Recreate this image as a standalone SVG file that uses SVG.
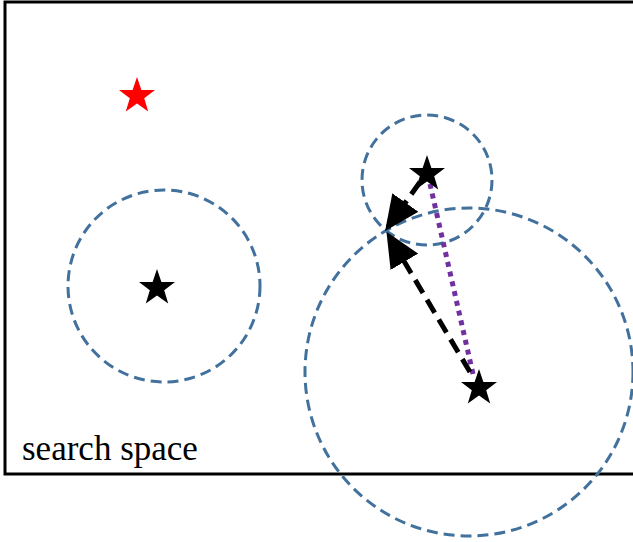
<svg xmlns="http://www.w3.org/2000/svg" width="633" height="542" viewBox="0 0 633 542">
<style>
.c{fill:none;stroke:#41719c;stroke-width:3;stroke-dasharray:11,6}
.a{stroke:#000;stroke-width:5;stroke-dasharray:15,8;fill:none}
.s{fill:#000}
</style>
<defs>
<path id="star" d="M0,-19 L4.4,-6.1 L18,-5.9 L7.2,2.3 L11.2,15.4 L0,7.6 L-11.2,15.4 L-7.2,2.3 L-18,-5.9 L-4.4,-6.1 Z"/>
<marker id="ah" markerWidth="7" markerHeight="6.4" refX="6" refY="3.2" orient="auto" markerUnits="strokeWidth"><path d="M0,0 L7,3.2 L0,6.4 Z" fill="#000"/></marker>
</defs>
<rect x="5" y="2" width="640" height="472" fill="#fff" stroke="#000" stroke-width="3"/>
<g id="circle-left"><circle class="c" cx="164" cy="286" r="96"/></g>
<g id="circle-small"><circle class="c" cx="427" cy="180" r="65"/></g>
<g id="circle-big"><circle class="c" cx="469" cy="372" r="164"/></g>
<g id="connectors">
<line x1="473" y1="374" x2="430" y2="184" stroke="#7030a0" stroke-width="5" stroke-dasharray="5,5"/>
<line class="a" x1="470" y1="372" x2="389" y2="236" marker-end="url(#ah)"/>
<line class="a" x1="420" y1="182" x2="388" y2="227" marker-end="url(#ah)"/>
</g>
<g id="star-red"><use href="#star" x="137" y="96" fill="#f00"/></g>
<g id="star-left"><use href="#star" x="157" y="288" class="s"/></g>
<g id="star-top"><use href="#star" x="427" y="174" class="s"/></g>
<g id="star-bottom"><use href="#star" x="479" y="388" class="s"/></g>
<text x="22" y="460" font-family="Liberation Serif, serif" font-size="35" fill="#000">search space</text>
</svg>
